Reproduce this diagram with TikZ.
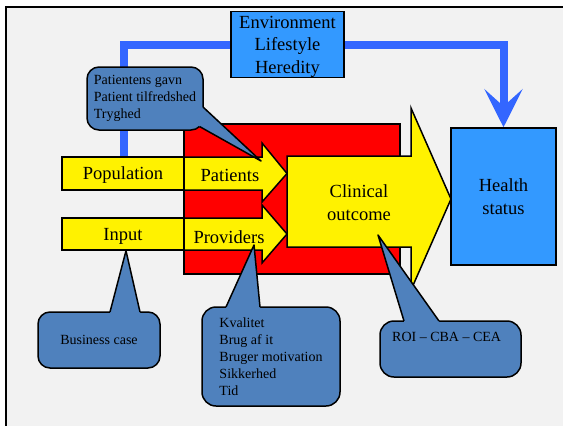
\documentclass[tikz,border=0pt]{standalone}
\usepackage{fontspec}
\setmainfont{Liberation Serif}
\usetikzlibrary{arrows.meta}
\definecolor{bggray}{HTML}{F2F2F2}
\definecolor{skyb}{HTML}{3399FF}
\definecolor{lineb}{HTML}{3366FF}
\definecolor{callb}{HTML}{4F81BD}
\pgfdeclarelayer{bglayer}
\pgfdeclarelayer{back}
\pgfsetlayers{bglayer,back,main}
\begin{document}
\begin{tikzpicture}[x=1pt,y=-1pt,
  big/.style={font=\fontsize{18.5}{22.5}\selectfont},
  small/.style={font=\fontsize{14}{17}\selectfont},
  outl/.style={draw=black,line width=1.5pt,line join=miter},
  boxnode/.style={outl,inner sep=0pt,align=center,big},
  callrect/.style={outl,fill=callb,rounded corners=12pt,inner sep=0pt,align=left,small},
  ptrfill/.style={fill=callb},
  ptrline/.style={draw=black,line width=1.5pt,line join=round},
  bline/.style={draw=lineb,line width=8pt,line join=miter,-{Stealth[length=38pt,width=38pt,inset=17pt]}}]
\clip (0,0) rectangle (563,426);
\begin{pgfonlayer}{bglayer}
\fill[white] (0,0) rectangle (563,426);
\draw[line width=2.2pt,fill=bggray] (6,7) rectangle (590,450);
\end{pgfonlayer}
% red block
\draw[outl,fill=red] (184,124) rectangle (400,274);
% clinical outcome arrow
\draw[outl,fill=yellow] (287,156) -- (411,156) -- (411,108) -- (451,199) -- (411,290) -- (411,247) -- (287,247) -- cycle;
\node[big,align=center,inner sep=0pt] (clin) at (359,202.5) {Clinical\\outcome};
% patients / providers arrows
\draw[outl,fill=yellow] (184,157) -- (262,157) -- (262,143) -- (287,173.5) -- (262,202) -- (262,190) -- (184,190) -- cycle;
\draw[outl,fill=yellow] (184,218) -- (262,218) -- (262,205) -- (287,234) -- (262,263) -- (262,250) -- (184,250) -- cycle;
\node[big,inner sep=0pt] (pat) at (230,175) {Patients};
\node[big,inner sep=0pt] (prov) at (229,237) {Providers};
% population / input
\node[boxnode,fill=yellow,minimum width=122pt,minimum height=33pt,text depth=0pt] (pop) at (123,173.5) {Population};
\node[boxnode,fill=yellow,minimum width=122pt,minimum height=32pt,text depth=0pt] (inp) at (123,234) {Input};
% health status
\node[boxnode,fill=skyb,minimum width=105pt,minimum height=137pt] (health) at (503.5,196.5) {Health\\status};
% environment
\node[boxnode,fill=skyb,minimum width=113pt,minimum height=66pt,text depth=0pt] (env) at (287.5,44.5) {Environment\\Lifestyle\\Heredity};
% blue connector
\coordinate (bstart) at (pop.north -| 124,0);
\begin{pgfonlayer}{back}
\path[bline] (bstart) |- (env.center) -| (health.north);
\end{pgfonlayer}
% callout 1
\node[callrect,minimum width=116pt,minimum height=63pt] (c1) at (145,98.5) {Patientens gavn\\Patient tilfredshed\\Tryghed};
\coordinate (t1) at (261,161);
\fill[ptrfill] (195,107) -- (203,107) -- (t1) -- (199.5,126.5) -- (193,121) -- cycle;
\draw[ptrline] (203,107) -- (t1) -- (199.5,126.5);
% business case
\node[callrect,align=center,minimum width=122pt,minimum height=56pt] (c2) at (99,340) {Business case};
\coordinate (t2) at (inp.south -| 126,0);
\fill[ptrfill] (110,316) -- (110,312) -- (t2) -- (140,312) -- (140,316) -- cycle;
\draw[ptrline] (110,312) -- (t2) -- (140,312);
% kvalitet
\node[callrect,rounded corners=14pt,minimum width=138pt,minimum height=99pt] (c3) at (271,356.5) {Kvalitet\\Brug af it\\Bruger motivation\\Sikkerhed\\Tid};
\coordinate (t3) at (254,245);
\fill[ptrfill] (226,311) -- (226,307) -- (t3) -- (260,307) -- (260,311) -- cycle;
\draw[ptrline] (226,307) -- (t3) -- (260,307);
% ROI
\node[callrect,rounded corners=14pt,minimum width=141pt,minimum height=56pt] (c4) at (450.5,349) {};
\node[small,anchor=west,inner sep=0pt] (roi) at (392,337) {ROI – CBA – CEA};
\coordinate (t4) at (378,235);
\fill[ptrfill] (404,325) -- (404,321) -- (t4) -- (439,321) -- (439,325) -- cycle;
\draw[ptrline] (404,321) -- (t4) -- (439,321);
\end{tikzpicture}
\end{document}
